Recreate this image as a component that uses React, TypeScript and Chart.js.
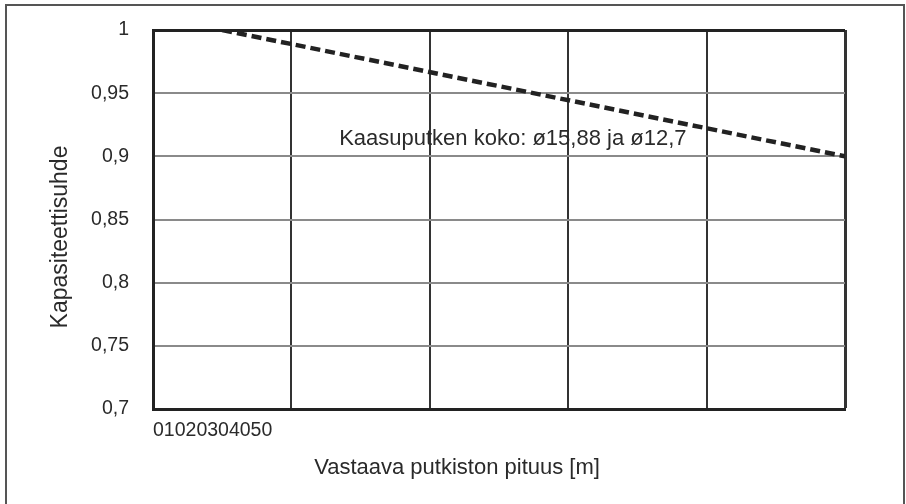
import { useEffect, useRef } from 'react'
import { Chart, registerables } from 'chart.js'

Chart.register(...registerables)

// pipe length [m] and capacity ratio
const lengthValues = [5, 50]
const ratioValues = [1, 0.9]

const xTickLabels = ['0', '10', '20', '30', '40', '50']
const yTickValues = [0.7, 0.75, 0.8, 0.85, 0.9, 0.95, 1]

const yTitle = 'Kapasiteettisuhde'
const xTitle = 'Vastaava putkiston pituus [m]'
const noteText = 'Kaasuputken koko: ø15,88 ja ø12,7'

const FONT = "'Liberation Sans', Arial, sans-serif"
const TEXT_COLOR = '#2a2a2a'

const textPlugin = {
  id: 'extraText',
  afterDatasetsDraw(chart: any) {
    const { ctx, scales } = chart
    ctx.save()
    ctx.fillStyle = TEXT_COLOR
    ctx.font = `22px ${FONT}`
    ctx.textBaseline = 'middle'
    // note inside the plot
    ctx.textAlign = 'left'
    ctx.fillText(noteText, scales.x.getPixelForValue(13.45), scales.y.getPixelForValue(0.914))
    // x title, centred on the whole figure
    ctx.textAlign = 'center'
    ctx.fillText(xTitle, 457, 468)
    // rotated y title
    ctx.font = `23px ${FONT}`
    ctx.translate(61, 237)
    ctx.rotate(-Math.PI / 2)
    ctx.fillText(yTitle, 0, 0)
    ctx.restore()
  },
}

export default function App() {
  const chartRef = useRef<HTMLCanvasElement>(null)
  const chartInstance = useRef<Chart | null>(null)

  useEffect(() => {
    if (!chartRef.current) return
    if (chartInstance.current) {
      chartInstance.current.destroy()
    }
    const ctx = chartRef.current.getContext('2d')
    if (!ctx) return

    chartInstance.current = new Chart(ctx, {
      type: 'line',
      data: {
        datasets: [
          {
            data: lengthValues.map((x, i) => ({ x, y: ratioValues[i] })),
            borderColor: '#222',
            borderWidth: 4.5,
            borderDash: [10, 5],
            borderCapStyle: 'butt',
            pointRadius: 0,
            fill: false,
          },
        ],
      },
      options: {
        responsive: true,
        maintainAspectRatio: false,
        animation: false,
        layout: { padding: { left: 0, right: 61, top: 30, bottom: 0 } },
        plugins: {
          legend: { display: false },
          tooltip: { enabled: false },
        },
        scales: {
          x: {
            type: 'linear',
            min: 0,
            max: 50,
            afterFit: (scale: any) => {
              scale.height = 95
            },
            afterBuildTicks: (scale: any) => {
              scale.ticks = xTickLabels.map((t) => ({ value: Number(t) }))
            },
            ticks: {
              align: 'start',
              padding: 10,
              maxRotation: 0,
              autoSkip: false,
              color: TEXT_COLOR,
              font: { family: FONT, size: 19.5 },
              callback: (_v: any, index: number) => (index === 0 ? xTickLabels.join('') : ''),
            },
            grid: {
              drawTicks: false,
              color: '#333',
              lineWidth: (c: any) => (c.tick && c.tick.value === 50 ? 3 : 2),
            },
            border: { color: '#222', width: 3 },
          },
          y: {
            min: 0.7,
            max: 1,
            afterFit: (scale: any) => {
              scale.width = 153
              // tick padding would otherwise push the plot top down
              scale.paddingTop = 12
            },
            afterBuildTicks: (scale: any) => {
              scale.ticks = yTickValues.map((v) => ({ value: v }))
            },
            ticks: {
              padding: 24,
              color: TEXT_COLOR,
              font: { family: FONT, size: 19.5 },
              callback: (v: any) => String(Number(Number(v).toFixed(2))).replace('.', ','),
            },
            grid: {
              drawTicks: false,
              color: (c: any) => (c.tick && c.tick.value === 1 ? '#222' : '#8a8a8a'),
              lineWidth: (c: any) => (c.tick && c.tick.value === 1 ? 3 : 2),
            },
            border: { color: '#222', width: 3 },
          },
        },
      },
      plugins: [textPlugin],
    } as any)

    return () => {
      if (chartInstance.current) {
        chartInstance.current.destroy()
        chartInstance.current = null
      }
    }
  }, [])

  return (
    <>
      <div
        style={{
          position: 'fixed',
          left: 5,
          top: 4,
          width: 900,
          height: 504,
          border: '2px solid #555',
          boxSizing: 'border-box',
          background: '#fff',
        }}
      />
      <div style={{ position: 'fixed', left: 0, top: 0, width: 906, height: 504 }}>
        <canvas ref={chartRef} />
      </div>
    </>
  )
}
